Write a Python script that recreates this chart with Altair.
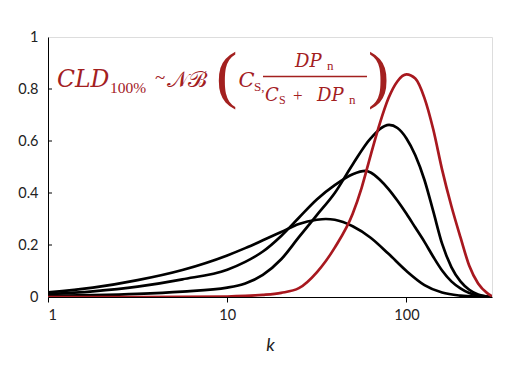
import altair as alt
import pandas as pd

# ---- data (k on a log axis) ----

# black curve with the lowest / widest peak
k_b3 = [1, 1.78, 3.16, 5.62, 10, 12.6, 15.8, 20, 25.1, 31.6, 35.5, 39.8, 50.1, 63.1, 79.4, 100, 126, 158, 200, 251, 300]
y_b3 = [0.018, 0.036, 0.065, 0.104, 0.160, 0.188, 0.218, 0.250, 0.281, 0.297, 0.300, 0.297, 0.272, 0.228, 0.166, 0.100, 0.046, 0.017, 0.005, 0.001, 0.0]

# black curve, middle
k_b2 = [1, 1.78, 3.16, 5.62, 10, 12.6, 15.8, 20, 25.1, 31.6, 39.8, 50.1, 58.9, 63.1, 70.8, 79.4, 89.1, 100, 112, 126, 141, 158, 178, 200, 224, 251, 300]
y_b2 = [0.011, 0.022, 0.040, 0.068, 0.105, 0.135, 0.175, 0.235, 0.305, 0.375, 0.430, 0.472, 0.485, 0.479, 0.452, 0.415, 0.370, 0.320, 0.267, 0.212, 0.155, 0.102, 0.060, 0.033, 0.015, 0.006, 0.0]

# black curve, highest
k_b1 = [1, 1.78, 3.16, 5.62, 10, 12.6, 15.8, 20, 25.1, 31.6, 39.8, 50.1, 63.1, 80, 89.1, 100, 112, 126, 141, 158, 178, 200, 224, 251, 300]
y_b1 = [0.004, 0.007, 0.012, 0.021, 0.036, 0.052, 0.085, 0.145, 0.230, 0.315, 0.400, 0.510, 0.610, 0.662, 0.650, 0.610, 0.545, 0.450, 0.330, 0.205, 0.115, 0.060, 0.028, 0.010, 0.0]

# red curve (CLD 100%)
k_red = [1, 3.16, 10, 12.6, 15.8, 20, 25.1, 31.6, 39.8, 50.1, 56.2, 63.1, 70.8, 79.4, 89.1, 100, 112, 126, 141, 158, 178, 200, 224, 251, 282, 300]
y_red = [0.0, 0.0, 0.002, 0.004, 0.008, 0.016, 0.034, 0.095, 0.190, 0.320, 0.420, 0.545, 0.665, 0.765, 0.830, 0.856, 0.840, 0.765, 0.645, 0.490, 0.350, 0.230, 0.120, 0.052, 0.015, 0.003]

x_ticks = [1, 10, 100]
y_ticks = [0, 0.2, 0.4, 0.6, 0.8, 1]
y_inner_ticks = [0.2, 0.4, 0.6, 0.8]

RED = "#A8181F"
TXT = "#A3201F"

rows = []
for name, ks, ys in [("b3", k_b3, y_b3), ("b2", k_b2, y_b2), ("b1", k_b1, y_b1), ("red", k_red, y_red)]:
    for kk, yy in zip(ks, ys):
        rows.append({"series": name, "k": kk, "v": yy})
df = pd.DataFrame(rows)

W, H = 444, 260

lines = alt.Chart(df).mark_line(strokeWidth=2.7, clip=True, interpolate="monotone").encode(
    x=alt.X("k:Q", scale=alt.Scale(type="log", domain=[1, 300], nice=False),
            axis=alt.Axis(values=x_ticks, format="d", title="k", grid=False,
                          tickSize=5, tickColor="black", domainColor="black",
                          labelFont="Lato", labelFontSize=14.5, labelColor="#222",
                          labelPadding=6, titleFont="Lato", titleFontStyle="italic",
                          titleFontWeight="normal", titleFontSize=18, titleColor="#222",
                          titlePadding=15)),
    y=alt.Y("v:Q", scale=alt.Scale(domain=[0, 1], nice=False),
            axis=alt.Axis(values=y_ticks, format=".1~f", title=None, grid=False,
                          ticks=False, tickSize=0, domainColor="black",
                          labelFont="Lato", labelFontSize=14.5, labelColor="#222",
                          labelPadding=10)),
    color=alt.Color("series:N", scale=alt.Scale(domain=["b3", "b2", "b1", "red"],
                                                 range=["black", "black", "black", RED]),
                    legend=None),
    order=alt.Order("series:N"),
)

tick_df = pd.DataFrame({"t": y_inner_ticks})
inner_ticks = alt.Chart(tick_df).mark_rule(color="black", strokeWidth=1).encode(
    y="t:Q", x=alt.value(0), x2=alt.value(4)
)


def txt(s, x, y, size, italic=True, font="DejaVu Serif"):
    return alt.Chart(pd.DataFrame({"s": [s]})).mark_text(
        text=s, font=font, fontSize=size, fontStyle="italic" if italic else "normal",
        color=TXT, align="left", baseline="alphabetic"
    ).encode(x=alt.value(x), y=alt.value(y))


UP = "Liberation Serif"
formula = [
    txt("CLD", 9, 49.5, 23.5),
    txt("100%", 62, 56, 15.5, italic=False, font=UP),
    txt("~", 107, 47, 19, italic=False, font=UP),
    txt("𝒩ℬ", 119, 49.5, 22, italic=False),
    txt("(", 168, 59, 64, italic=False, font=UP),
    txt("C", 190.5, 49.5, 21),
    txt("S,", 206, 54, 13, italic=False, font=UP),
    txt("DP", 247, 29.5, 18),
    txt("n", 279, 33, 13, italic=False, font=UP),
    txt("C", 217, 63.5, 18),
    txt("S", 231, 67, 12, italic=False, font=UP),
    txt("+", 245, 63.5, 17, italic=False, font=UP),
    txt("DP", 269, 63.5, 18),
    txt("n", 301, 67, 13, italic=False, font=UP),
    txt(")", 320, 59, 64, italic=False, font=UP),
]
frac = alt.Chart(pd.DataFrame({"a": [0]})).mark_rule(color=TXT, strokeWidth=1.4).encode(
    x=alt.value(215), x2=alt.value(319), y=alt.value(39.5)
)

chart = alt.layer(lines, inner_ticks, frac, *formula).properties(
    width=W, height=H,
    autosize=alt.AutoSizeParams(type="none"),
    padding={"left": 40, "top": 29, "right": 10, "bottom": 60},
).configure_view(stroke="black", strokeWidth=1).configure(background="white")

chart.save("out.html", embed_options={"renderer": "svg", "actions": False})
